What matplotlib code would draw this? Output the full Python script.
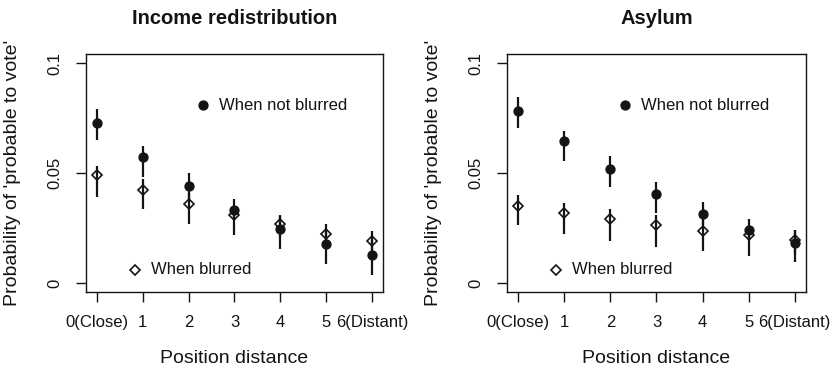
import matplotlib
matplotlib.use("Agg")
import matplotlib.pyplot as plt
from matplotlib import font_manager

# Position distance categories
positions = [0, 1, 2, 3, 4, 5, 6]
tick_labels = ["0(Close)", "1", "2", "3", "4", "5", "6(Distant)"]

# Income redistribution: estimates with interval bounds
inc_notblur = [0.0728, 0.0575, 0.0440, 0.0334, 0.0244, 0.0179, 0.0127]
inc_notblur_lo = [0.0649, 0.0480, 0.0380, 0.0285, 0.0156, 0.0088, 0.0035]
inc_notblur_hi = [0.0791, 0.0622, 0.0498, 0.0383, 0.0305, 0.0245, 0.0195]
inc_blur = [0.0489, 0.0422, 0.0360, 0.0307, 0.0266, 0.0221, 0.0189]
inc_blur_lo = [0.0390, 0.0335, 0.0270, 0.0216, 0.0210, 0.0170, 0.0140]
inc_blur_hi = [0.0531, 0.0474, 0.0410, 0.0350, 0.0309, 0.0269, 0.0235]

# Asylum: estimates with interval bounds
asy_notblur = [0.0782, 0.0644, 0.0516, 0.0406, 0.0315, 0.0241, 0.0180]
asy_notblur_lo = [0.0705, 0.0554, 0.0436, 0.0320, 0.0265, 0.0195, 0.0095]
asy_notblur_hi = [0.0846, 0.0691, 0.0576, 0.0461, 0.0368, 0.0292, 0.0240]
asy_blur = [0.0350, 0.0318, 0.0289, 0.0263, 0.0238, 0.0216, 0.0194]
asy_blur_lo = [0.0262, 0.0221, 0.0192, 0.0165, 0.0143, 0.0123, 0.0130]
asy_blur_hi = [0.0402, 0.0365, 0.0335, 0.0310, 0.0290, 0.0265, 0.0242]

titles = ["Income redistribution", "Asylum"]
y_ticks = [0, 0.05, 0.1]
y_tick_labels = ["0", "0.05", "0.1"]
label_notblur = "When not blurred"
label_blur = "When blurred"
xlabel = "Position distance"
ylabel = "Probability of 'probable to vote'"

installed = {f.name for f in font_manager.fontManager.ttflist}
base_font = "Liberation Sans" if "Liberation Sans" in installed else "DejaVu Sans"
plt.rcParams["font.family"] = base_font

INK = "#141414"

fig = plt.figure(figsize=(8.33, 3.74), dpi=100)
axes = [fig.add_axes([0.1032, 0.22, 0.3565, 0.6348]),
        fig.add_axes([0.609, 0.22, 0.3582, 0.6348])]

panels = [
    (inc_notblur, inc_notblur_lo, inc_notblur_hi, inc_blur, inc_blur_lo, inc_blur_hi),
    (asy_notblur, asy_notblur_lo, asy_notblur_hi, asy_blur, asy_blur_lo, asy_blur_hi),
]

for ax, title, (nb, nb_lo, nb_hi, bl, bl_lo, bl_hi) in zip(axes, titles, panels):
    ax.vlines(positions, nb_lo, nb_hi, color=INK, lw=1.6, zorder=2)
    ax.vlines(positions, bl_lo, bl_hi, color=INK, lw=1.6, zorder=2)
    ax.plot(positions, nb, "o", color=INK, ms=6.4, zorder=3)
    ax.plot(positions, bl, "D", mfc="none", mec=INK, mew=1.2, ms=5.4, zorder=3)

    # in-plot key
    ax.plot([2.32], [0.0808], "o", color=INK, ms=6.4)
    ax.text(2.67, 0.0808, label_notblur, fontsize=12, va="center", ha="left", color=INK)
    ax.plot([0.82], [0.0059], "D", mfc="none", mec=INK, mew=1.2, ms=5.4)
    ax.text(1.17, 0.0059, label_blur, fontsize=12, va="center", ha="left", color=INK)

    ax.set_xlim(-0.24, 6.24)
    ax.set_ylim(-0.004, 0.104)
    ax.set_xticks(positions)
    ax.set_xticklabels(tick_labels, fontsize=12, color=INK)
    ax.set_yticks(y_ticks)
    ax.set_yticklabels(y_tick_labels, fontsize=12, rotation=90, va="center", color=INK)
    ax.tick_params(axis="both", direction="out", length=7.5, width=1.0, color=INK)
    ax.tick_params(axis="x", pad=9.5)
    ax.tick_params(axis="y", pad=9.5)
    for s in ax.spines.values():
        s.set_linewidth(1.0)
        s.set_color(INK)
    ax.set_xlabel(xlabel, fontsize=14, labelpad=14, color=INK)
    ax.set_ylabel(ylabel, fontsize=14, labelpad=19, color=INK)
    ax.set_title(title, fontsize=14.5, fontweight="bold", pad=22, color=INK)

fig.savefig("out.png", dpi=100)
